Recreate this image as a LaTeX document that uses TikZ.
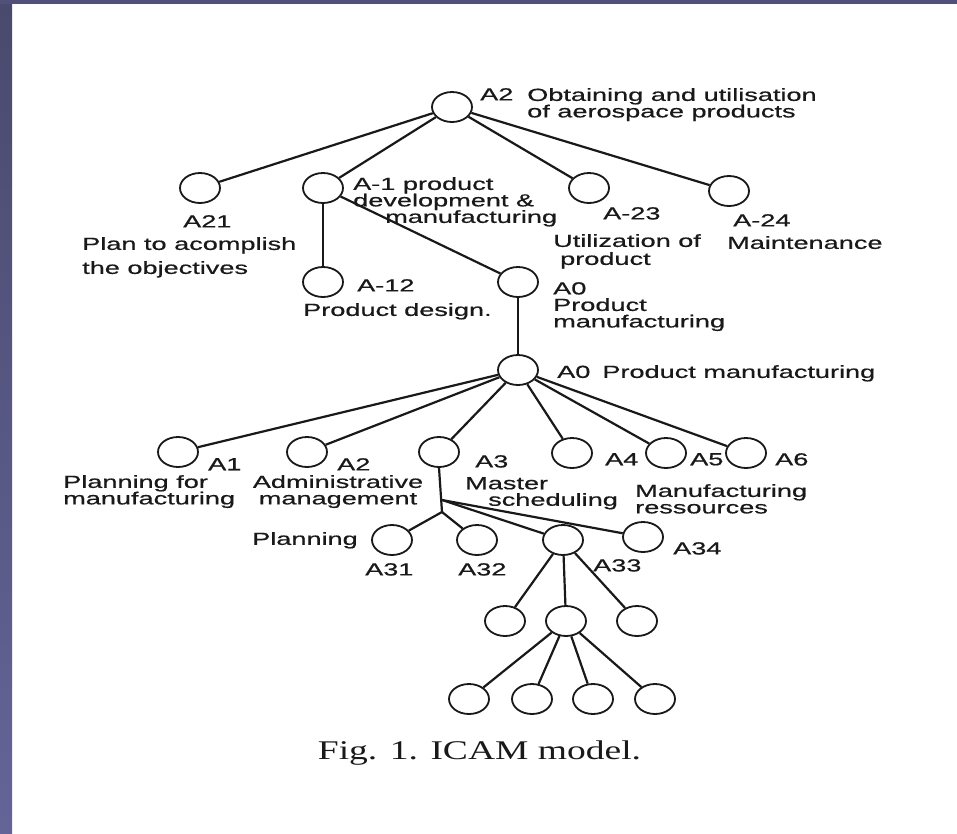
\documentclass[tikz,border=0pt]{standalone}
\usepackage{fontspec}
\setmainfont{Liberation Sans}[FakeStretch=1.55,FakeBold=0.6]
\newfontfamily\capfont{Liberation Serif}[FakeStretch=1.39]
\usetikzlibrary{shapes.geometric}
\definecolor{stripA}{RGB}{74,74,110}
\definecolor{stripB}{RGB}{100,100,152}
\definecolor{stripT}{RGB}{80,80,120}
\definecolor{inkc}{RGB}{25,25,25}
\newcommand\lblfont{\fontsize{17.5}{16.5}\selectfont\lineskiplimit=-20pt\relax}
\newcommand\capsize{\capfont\fontsize{27}{30}\selectfont}
\begin{document}
\begin{tikzpicture}[x=1pt,y=-1pt,
  nd/.style={draw=inkc, ellipse, line width=1.8pt, minimum width=40pt, minimum height=30pt, inner sep=0pt},
  conn/.style={draw=inkc, line width=2.2pt},
  lbl/.style={inner sep=0pt, anchor=north west, align=left, text=inkc, font=\lblfont},
  lblc/.style={lbl, anchor=north, align=center}
]
\useasboundingbox (0,0) rectangle (957,833);
\fill[white] (0,0) rectangle (957,833);
\shade[top color=stripA, bottom color=stripB] (0,0) rectangle (12,833);
\fill[stripT] (0,0) rectangle (957,4);

% circles
\node[nd] (top) at (452,107) {};
\node[nd] (a21) at (200,188) {};
\node[nd] (a1p) at (323,188) {};
\node[nd] (a23) at (589,188) {};
\node[nd] (a24) at (729,191) {};
\node[nd] (a12) at (323,282) {};
\node[nd] (a0u) at (518,282) {};
\node[nd] (a0) at (518,370) {};
\node[nd] (b1) at (178,452) {};
\node[nd] (b2) at (307,452) {};
\node[nd] (b3) at (439,452) {};
\node[nd] (b4) at (572,453) {};
\node[nd] (b5) at (666,453) {};
\node[nd] (b6) at (746,453) {};
\node[nd] (c31) at (392,540) {};
\node[nd] (c32) at (477,540) {};
\node[nd] (c33) at (563,540) {};
\node[nd] (c34) at (643,537) {};
\node[nd] (d1) at (505,621) {};
\node[nd] (d2) at (566,621) {};
\node[nd] (d3) at (637,621) {};
\node[nd] (e1) at (469,699) {};
\node[nd] (e2) at (532,699) {};
\node[nd] (e3) at (593,699) {};
\node[nd] (e4) at (655,699) {};
\coordinate (j1) at (442,500);
\coordinate (j2) at (442,512);

% connectors
\draw[conn] (top) -- (a21);
\draw[conn] (top) -- (a1p);
\draw[conn] (top) -- (a23);
\draw[conn] (top) -- (a24);
\draw[conn] (a1p) -- (a12);
\draw[conn] (a1p) -- (a0u);
\draw[conn] (a0u) -- (a0);
\foreach \b in {b1,b2,b3,b4,b5,b6} \draw[conn] (a0) -- (\b);
\draw[conn] (b3.south) -- (j2);
\draw[conn] (j2) -- (c31);
\draw[conn] (j2) -- (c32);
\draw[conn] (j1) -- (c33);
\draw[conn] (j1) -- (c34);
\draw[conn] (c33) -- (d1);
\draw[conn] (c33) -- (d2);
\draw[conn] (c33) -- (d3);
\foreach \e in {e1,e2,e3,e4} \draw[conn] (d2) -- (\e);

% labels
\node[lbl] (tA2) at (480,88) {A2};
\node[lbl] (tObt) at (527,88) {Obtaining and utilisation\\of aerospace products};
\node[lbl] (tA1p) at (353,177) {A-1 product\\development \&\\\hspace*{32pt}manufacturing};
\node[lbl] (tA21) at (183,215) {A21};
\node[lbl] (tPlan) at (82,237) {Plan to acomplish\\[7.5pt]the objectives};
\node[lbl] (tA23) at (603,207) {A-23};
\node[lbl] (tUtil) at (553,234) {Utilization of\\[1.5pt]\hspace*{7pt}product};
\node[lbl] (tA24) at (733,214) {A-24};
\node[lbl] (tMaint) at (727,236) {Maintenance};
\node[lbl] (tA12) at (357,279) {A-12};
\node[lbl] (tPD) at (303,303) {Product design.};
\node[lbl] (tA0u) at (553,282) {A0\\Product\\manufacturing};
\node[lbl] (tA0) at (557,365) {A0\hspace{12pt}Product manufacturing};
\node[lbl] (tA1) at (208,458) {A1};
\node[lbl] (tPfm) at (63,475) {Planning for\\manufacturing};
\node[lbl] (tA2b) at (337,458) {A2};
\node[lblc] (tAdm) at (338,475) {Administrative\\management};
\node[lbl] (tA3) at (475,455) {A3};
\node[lbl] (tMS) at (465,477) {Master\\\hspace*{23pt}scheduling};
\node[lbl] (tA4) at (605,453) {A4};
\node[lbl] (tA5) at (690,453) {A5};
\node[lbl] (tA6) at (775,453) {A6};
\node[lbl] (tMR) at (635,484) {Manufacturing\\ressources};
\node[lbl] (tPl) at (252,532) {Planning};
\node[lbl] (tA31) at (365,563) {A31};
\node[lbl] (tA32) at (458,563) {A32};
\node[lbl] (tA33) at (593,559) {A33};
\node[lbl] (tA34) at (673,542) {A34};
\node[inner sep=0pt, anchor=base, text=inkc, font=\capsize] (cap) at (479.5,759) {Fig. 1. ICAM model.};
\end{tikzpicture}
\end{document}
